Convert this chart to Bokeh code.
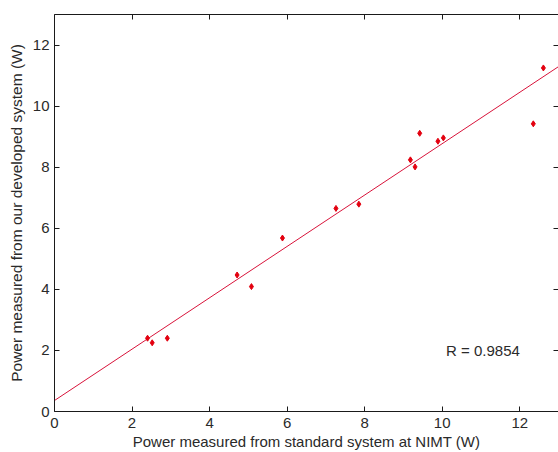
from bokeh.plotting import figure
from bokeh.models import LinearAxis, Range1d, FixedTicker, Label
from bokeh.embed import file_html
from bokeh.resources import INLINE

# Data
standard_w = [2.40, 2.52, 2.91, 4.71, 5.08, 5.88, 7.26, 7.85, 9.18, 9.30, 9.42, 9.89, 10.03, 12.35, 12.61]
developed_w = [2.40, 2.25, 2.40, 4.47, 4.09, 5.68, 6.65, 6.79, 8.24, 8.01, 9.11, 8.85, 8.96, 9.42, 11.25]
fit_slope = 0.841
fit_intercept = 0.36
fit_x = [0, 13]
fit_y = [fit_intercept + fit_slope * v for v in fit_x]
x_ticks = [0, 2, 4, 6, 8, 10, 12]
y_ticks = [0, 2, 4, 6, 8, 10, 12]
r_text = "R = 0.9854"

FONT = "Liberation Sans"
FS = "15px"
AX = "#1a1a1a"
TXT = "#2a2a2a"

p = figure(width=558, height=452, output_backend="svg", toolbar_location=None,
           x_range=Range1d(0, 13), y_range=Range1d(0, 13),
           min_border_left=54, min_border_right=0, min_border_top=14, min_border_bottom=41)
p.background_fill_color = "white"
p.border_fill_color = "white"
p.outline_line_color = None
p.grid.visible = False

def style(ax, ticks, labels=True):
    ax.ticker = FixedTicker(ticks=ticks)
    ax.major_tick_in = 5
    ax.major_tick_out = 0
    ax.minor_tick_line_color = None
    ax.axis_line_color = AX
    ax.major_tick_line_color = AX
    if labels:
        ax.major_label_text_font = FONT
        ax.major_label_text_font_size = FS
        ax.major_label_text_color = TXT
        ax.axis_label_text_font = FONT
        ax.axis_label_text_font_size = FS
        ax.axis_label_text_font_style = "normal"
        ax.axis_label_text_color = TXT
    else:
        ax.major_label_overrides = {t: "" for t in ticks}
        ax.major_label_standoff = 0

xa = p.xaxis[0]
style(xa, x_ticks)
xa.major_label_standoff = 6
xa.axis_label_standoff = 2
xa.axis_label = "Power measured from standard system at NIMT (W)"

ya = p.yaxis[0]
style(ya, y_ticks)
ya.major_label_standoff = 5
ya.axis_label_standoff = 5
ya.axis_label_text_font_size = "15.5px"
ya.axis_label = "Power measured from our developed system (W)"

top = LinearAxis()
style(top, x_ticks, labels=False)
p.add_layout(top, "above")

right = LinearAxis()
style(right, y_ticks, labels=False)
right.axis_line_color = None
p.add_layout(right, "right")

p.line(fit_x, fit_y, line_color="#d8133a", line_width=1)
p.scatter(standard_w, developed_w, marker="diamond", size=6,
          fill_color="#e3000f", line_color="#e3000f")

p.add_layout(Label(x=10.1, y=2.0, text=r_text, text_font=FONT, text_font_size=FS,
                   text_color=TXT, text_baseline="middle", text_align="left"))

open("out.html", "w").write(file_html(p, INLINE))
